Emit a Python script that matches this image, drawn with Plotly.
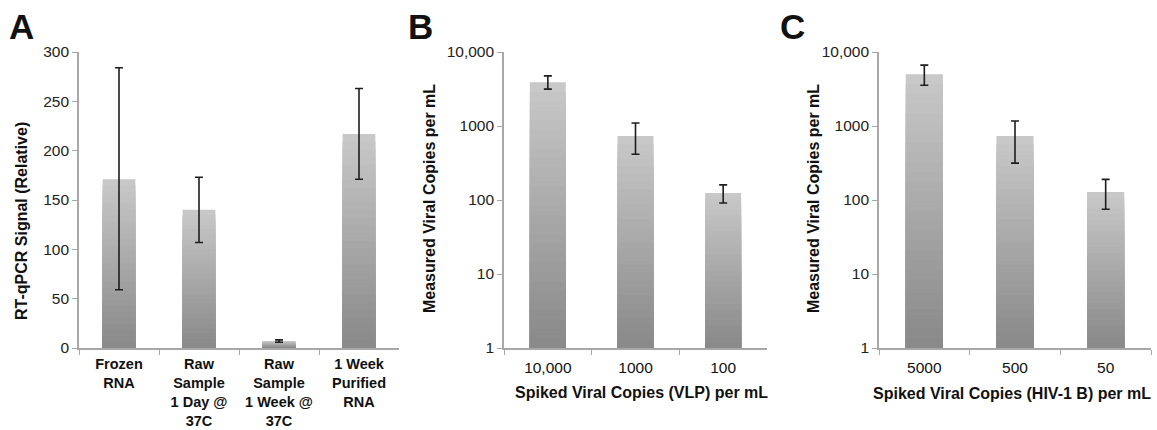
import numpy as np
import plotly.graph_objects as go

# ---------------- data ----------------
a_categories = ["Frozen<br>RNA", "Raw<br>Sample<br>1 Day @<br>37C", "Raw<br>Sample<br>1 Week @<br>37C", "1 Week<br>Purified<br>RNA"]
a_values = [171, 140, 7, 217]
a_err_plus = [113, 33, 1.2, 46]
a_err_minus = [112, 33, 1.2, 46]

b_categories = ["10,000", "1000", "100"]
b_values = [3900, 730, 124]
b_err_plus = [850, 370, 36]
b_err_minus = [750, 315, 33]

c_categories = ["5000", "500", "50"]
c_values = [5000, 730, 128]
c_err_plus = [1650, 440, 62]
c_err_minus = [1450, 415, 53]

log_tickvals = [1, 10, 100, 1000, 10000]
log_ticktext = ["1", "10", "100", "1000", "10,000"]

# ---------------- figure ----------------
W, H = 1157, 430
FONT = "Liberation Sans, Arial, sans-serif"
AXC = "#a8a8a8"
fig = go.Figure()

def px_x(p):
    return p / W

def px_y(p):
    return (H - p) / H

N = 28
top_rgb = np.array([200, 200, 200])
bot_rgb = np.array([138, 138, 138])

def add_panel(cats, vals, ep, em, xa, ya, log=False):
    vals = np.array(vals, dtype=float)
    for k in range(N):
        f = (N - k) / N
        t = k / (N - 1)
        rgb = (top_rgb * (1 - t) + bot_rgb * t).astype(int)
        col = "rgb(%d,%d,%d)" % tuple(rgb)
        if log:
            yv = 10 ** (np.log10(vals) * f)
        else:
            yv = vals * f
        fig.add_trace(go.Bar(x=cats, y=yv, width=0.41, marker=dict(color=col, line=dict(width=0)),
                             xaxis=xa, yaxis=ya, showlegend=False, hoverinfo="skip"))
    fig.add_trace(go.Scatter(x=cats, y=vals, mode="markers", xaxis=xa, yaxis=ya,
                             marker=dict(size=1, color="rgba(0,0,0,0)"), showlegend=False,
                             error_y=dict(type="data", array=ep, arrayminus=em, symmetric=False,
                                          color="#1e1e1e", thickness=1.6, width=4)))

add_panel(a_categories, a_values, a_err_plus, a_err_minus, "x", "y")
add_panel(b_categories, b_values, b_err_plus, b_err_minus, "x2", "y2", log=True)
add_panel(c_categories, c_values, c_err_plus, c_err_minus, "x3", "y3", log=True)

ydom = [px_y(348), px_y(52)]

def xaxis_style(x0, x1, size=15.5):
    return dict(domain=[px_x(x0), px_x(x1)], showline=True, linecolor=AXC, linewidth=1.6,
                ticks="outside", tickson="boundaries", ticklen=5, tickcolor=AXC, tickwidth=1.4,
                showgrid=False, zeroline=False, fixedrange=True, ticklabelstandoff=5,
                automargin=False,
                tickfont=dict(family=FONT, size=size, color="#111111"))

def yaxis_style():
    return dict(domain=ydom, showline=True, linecolor=AXC, linewidth=1.6, ticks="outside",
                ticklen=5, tickcolor=AXC, tickwidth=1.4, showgrid=False, zeroline=False,
                automargin=False, fixedrange=True,
                tickfont=dict(family=FONT, size=15.5, color="#222222"))

xa1 = xaxis_style(79, 399)
xa1["tickfont"] = dict(family=FONT, size=14.5, color="#111111", weight="bold")
xa1["ticklabelstandoff"] = 2
ya1 = yaxis_style(); ya1.update(range=[0, 300], tickvals=[0, 50, 100, 150, 200, 250, 300], anchor="x")
xa2 = xaxis_style(504, 767); xa2["anchor"] = "y2"
ya2 = yaxis_style(); ya2.update(type="log", range=[0, 4], tickvals=log_tickvals, ticktext=log_ticktext, anchor="x2")
xa3 = xaxis_style(879, 1151); xa3["anchor"] = "y3"
ya3 = yaxis_style(); ya3.update(type="log", range=[0, 4], tickvals=log_tickvals, ticktext=log_ticktext, anchor="x3")

fig.update_layout(xaxis=xa1, yaxis=ya1, xaxis2=xa2, yaxis2=ya2, xaxis3=xa3, yaxis3=ya3)

fig.update_layout(width=W, height=H, margin=dict(l=0, r=0, t=0, b=0, pad=0, autoexpand=False),
                  paper_bgcolor="white", plot_bgcolor="white",
                  barmode="overlay", bargap=0.59, showlegend=False)

ann = []
def label(text, x, y, size, angle=0):
    ann.append(dict(text=text, x=px_x(x), y=px_y(y), xref="paper", yref="paper",
                    showarrow=False, textangle=angle, xanchor="center", yanchor="middle",
                    font=dict(family=FONT, size=size, color="#111111", weight="bold")))

label("A", 21, 27, 35)
label("B", 420, 27, 35)
label("C", 792, 27, 35)
label("RT-qPCR Signal (Relative)", 21, 221, 16, -90)
label("Measured Viral Copies per mL", 430, 198, 16, -90)
label("Measured Viral Copies per mL", 813, 199, 16, -90)
label("Spiked Viral Copies (VLP) per mL", 641, 392, 16)
label("Spiked Viral Copies (HIV-1 B) per mL", 1012, 393, 16)
fig.update_layout(annotations=ann)

fig.write_html("out.html", config={"displayModeBar": False},
               post_script="document.body.style.margin='0';document.body.style.overflow='hidden';")
